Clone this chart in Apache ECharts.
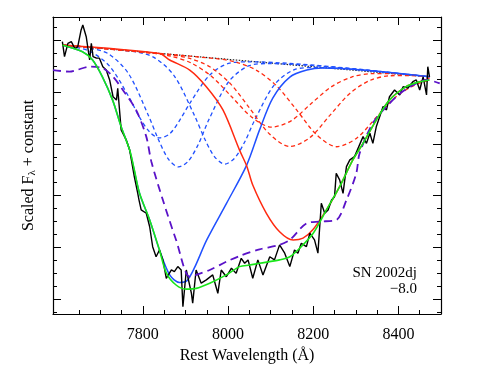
<!DOCTYPE html>
<html>
<head>
<meta charset="utf-8">
<script src="https://cdn.jsdelivr.net/npm/echarts@6/dist/echarts.min.js"></script>
<style>
  html, body { margin: 0; padding: 0; background: #fff; }
  #chart { width: 485px; height: 374px; }
</style>
</head>
<body>
<div id="chart"></div>
<script>
// observed spectrum
const obsWave = [7611, 7616, 7624, 7632, 7640, 7647, 7655, 7659, 7667, 7675, 7679, 7683, 7691, 7698, 7706, 7714, 7722, 7730, 7738, 7741, 7749, 7761, 7769, 7773, 7780, 7788, 7791, 7796, 7808, 7816, 7823, 7831, 7839, 7847, 7855, 7867, 7874, 7882, 7890, 7894, 7902, 7914, 7917, 7925, 7937, 7949, 7964, 7976, 7984, 7996, 8008, 8019, 8031, 8039, 8047, 8058, 8070, 8082, 8098, 8109, 8121, 8133, 8145, 8156, 8164, 8172, 8184, 8192, 8203, 8211, 8219, 8227, 8235, 8243, 8250, 8254, 8262, 8270, 8278, 8286, 8297, 8317, 8325, 8333, 8340, 8348, 8356, 8364, 8372, 8379, 8391, 8403, 8411, 8422, 8434, 8442, 8450, 8458, 8466, 8469, 8473];
const obsFlux = [0.995, 0.937, 0.988, 0.995, 0.969, 0.975, 1.040, 1.059, 1.014, 0.924, 0.988, 0.937, 0.931, 0.931, 0.898, 0.885, 0.847, 0.782, 0.769, 0.815, 0.654, 0.615, 0.576, 0.538, 0.473, 0.409, 0.383, 0.345, 0.332, 0.280, 0.203, 0.164, 0.190, 0.152, 0.081, 0.113, 0.107, 0.126, 0.113, -0.029, 0.113, 0.023, -0.015, 0.113, 0.062, 0.075, 0.094, 0.023, 0.113, 0.087, 0.120, 0.100, 0.158, 0.139, 0.152, 0.081, 0.152, 0.094, 0.164, 0.152, 0.210, 0.178, 0.126, 0.190, 0.178, 0.216, 0.203, 0.255, 0.229, 0.178, 0.371, 0.332, 0.345, 0.383, 0.396, 0.486, 0.461, 0.409, 0.512, 0.538, 0.551, 0.628, 0.602, 0.641, 0.602, 0.666, 0.705, 0.744, 0.731, 0.782, 0.808, 0.789, 0.821, 0.815, 0.840, 0.847, 0.808, 0.859, 0.789, 0.898, 0.859];

// total fit (green)
const fitWave = [7611, 7658, 7682, 7705, 7729, 7749, 7769, 7780, 7792, 7816, 7839, 7855, 7878, 7902, 7925, 7957, 7996, 8027, 8051, 8074, 8121, 8145, 8168, 8200, 8231, 8262, 8293, 8317, 8348, 8379, 8418, 8450, 8473];
const fitFlux = [0.982, 0.956, 0.924, 0.859, 0.769, 0.666, 0.576, 0.499, 0.410, 0.306, 0.190, 0.102, 0.055, 0.039, 0.042, 0.062, 0.094, 0.126, 0.132, 0.139, 0.152, 0.164, 0.197, 0.255, 0.345, 0.435, 0.538, 0.602, 0.692, 0.769, 0.821, 0.840, 0.847];

// comparison model (purple dashed)
const synWave = [7589, 7628, 7644, 7675, 7706, 7730, 7753, 7784, 7808, 7820, 7847, 7878, 7910, 7925, 7957, 7996, 8027, 8074, 8121, 8145, 8184, 8215, 8254, 8278, 8301, 8309, 8340, 8372, 8404, 8434, 8466, 8497];
const synFlux = [0.885, 0.879, 0.885, 0.898, 0.892, 0.859, 0.808, 0.731, 0.628, 0.531, 0.383, 0.229, 0.087, 0.094, 0.113, 0.145, 0.167, 0.193, 0.210, 0.229, 0.293, 0.300, 0.306, 0.383, 0.486, 0.564, 0.680, 0.744, 0.795, 0.827, 0.847, 0.834];

// continuum (dotted)
const contWave = [7611, 8473];
const contFlux = [0.982, 0.859];

// high-velocity component sum (blue solid)
const hvfWave = [7611, 7658, 7682, 7705, 7729, 7749, 7769, 7792, 7816, 7839, 7863, 7886, 7903, 7921, 7950, 7997, 8044, 8074, 8105, 8145, 8185, 8222, 8473];
const hvfFlux = [0.982, 0.956, 0.924, 0.859, 0.769, 0.666, 0.576, 0.410, 0.306, 0.190, 0.094, 0.065, 0.071, 0.121, 0.229, 0.372, 0.519, 0.654, 0.777, 0.858, 0.885, 0.893, 0.859];

// photospheric component sum (red solid)
const pvfWave = [7611, 7839, 7863, 7910, 7949, 7988, 8027, 8044, 8058, 8090, 8121, 8153, 8176, 8199, 8231, 8262, 8293, 8317, 8348, 8379, 8418, 8450, 8473];
const pvfFlux = [0.982, 0.949, 0.924, 0.885, 0.821, 0.731, 0.576, 0.514, 0.441, 0.332, 0.261, 0.229, 0.236, 0.268, 0.345, 0.435, 0.538, 0.602, 0.692, 0.769, 0.821, 0.840, 0.853];

// individual high-velocity lines (blue dashed)
const hv1Wave = [7611, 7628, 7675, 7722, 7769, 7792, 7816, 7839, 7863, 7886, 7910, 7957, 8004, 8051, 8473];
const hv1Flux = [0.982, 0.978, 0.958, 0.900, 0.776, 0.703, 0.646, 0.623, 0.639, 0.690, 0.756, 0.866, 0.912, 0.917, 0.859];
const hv2Wave = [7611, 7673, 7719, 7766, 7813, 7837, 7860, 7884, 7907, 7931, 7954, 8001, 8048, 8095, 8473];
const hv2Flux = [0.982, 0.970, 0.948, 0.872, 0.710, 0.615, 0.541, 0.511, 0.534, 0.601, 0.690, 0.839, 0.901, 0.910, 0.859];
const hv3Wave = [7611, 7780, 7827, 7874, 7921, 7945, 7968, 7992, 8015, 8039, 8062, 8109, 8156, 8203, 8473];
const hv3Flux = [0.982, 0.956, 0.933, 0.862, 0.710, 0.620, 0.551, 0.522, 0.544, 0.607, 0.690, 0.829, 0.887, 0.895, 0.859];

// individual photospheric lines (red dashed)
const pv1Wave = [7611, 7820, 7867, 7914, 7961, 8008, 8055, 8102, 8149, 8196, 8243, 8290, 8337, 8384, 8473];
const pv1Flux = [0.982, 0.951, 0.938, 0.912, 0.861, 0.783, 0.704, 0.665, 0.690, 0.757, 0.821, 0.858, 0.871, 0.871, 0.859];
const pv2Wave = [7611, 7863, 7910, 7957, 8004, 8051, 8098, 8145, 8192, 8239, 8286, 8333, 8380, 8427, 8473];
const pv2Flux = [0.982, 0.944, 0.930, 0.898, 0.835, 0.737, 0.637, 0.590, 0.624, 0.710, 0.795, 0.845, 0.863, 0.864, 0.859];
const pv3Wave = [7611, 7973, 8020, 8067, 8114, 8161, 8208, 8255, 8302, 8349, 8396, 8443, 8473];
const pv3Flux = [0.982, 0.929, 0.915, 0.884, 0.824, 0.731, 0.635, 0.589, 0.622, 0.704, 0.784, 0.831, 0.845];

// axis ticks
const xMajor = [7800, 8000, 8200, 8400];
const xMinor = [7650, 7700, 7750, 7800, 7850, 7900, 7950, 8000, 8050, 8100, 8150, 8200, 8250, 8300, 8350, 8400, 8450];
const yMajor = [0, 0.2, 0.4, 0.6, 0.8, 1.0];
const yMinor = [-0.05, 0, 0.05, 0.1, 0.15, 0.2, 0.25, 0.3, 0.35, 0.4, 0.45, 0.5, 0.55, 0.6, 0.65, 0.7, 0.75, 0.8, 0.85, 0.9, 0.95, 1.0, 1.05];

const pair = (w, f) => w.map((x, i) => [x, f[i]]);

const FONT = 'Liberation Serif';
const xMin = 7589, xMax = 8500;
const yMin = -0.057, yMax = 1.09;

function xAx(pos, ticks, len, line, labels) {
  return {
    type: 'value', position: pos, min: xMin, max: xMax,
    axisLine: { show: line, onZero: false, lineStyle: { color: '#000', width: 1.2 } },
    axisTick: { show: true, inside: true, length: len, customValues: ticks, lineStyle: { color: '#000', width: 1 } },
    axisLabel: labels ? { show: true, customValues: ticks, formatter: v => String(v), color: '#000', fontFamily: FONT, fontSize: 16, margin: 13 } : { show: false },
    splitLine: { show: false }
  };
}
function yAx(pos, ticks, len, line) {
  return {
    type: 'value', position: pos, min: yMin, max: yMax,
    axisLine: { show: line, onZero: false, lineStyle: { color: '#000', width: 1.2 } },
    axisTick: { show: true, inside: true, length: len, customValues: ticks, lineStyle: { color: '#000', width: 1 } },
    axisLabel: { show: false },
    splitLine: { show: false }
  };
}

const xAxes = [
  xAx('bottom', xMinor, 4, true, false),
  xAx('bottom', xMajor, 8, false, true),
  xAx('top', xMinor, 4, true, false),
  xAx('top', xMajor, 8, false, false)
];
Object.assign(xAxes[1], {
  name: 'Rest Wavelength (Å)', nameLocation: 'middle', nameGap: 31,
  nameTextStyle: { color: '#000', fontFamily: FONT, fontSize: 16 }
});
const yAxes = [
  yAx('left', yMinor, 4, true),
  yAx('left', yMajor, 8, false),
  yAx('right', yMinor, 4, true),
  yAx('right', yMajor, 8, false)
];
Object.assign(yAxes[1], {
  name: 'Scaled F{s|λ} + constant', nameLocation: 'middle', nameGap: 15,
  nameTextStyle: { color: '#000', fontFamily: FONT, fontSize: 16,
    rich: { s: { fontFamily: FONT, fontSize: 11, verticalAlign: 'bottom', padding: [8, 0, 0, 0] } } }
});

function line(data, color, width, type, z) {
  return {
    type: 'line', data: data, xAxisIndex: 0, yAxisIndex: 0,
    showSymbol: false, smooth: 0.3, z: z, silent: true,
    lineStyle: { color: color, width: width, type: type },
    animation: false
  };
}

const BLUE = '#2050ff', RED = '#ff2a10', GREEN = '#19e619', PURPLE = '#5a12c8';

const chart = echarts.init(document.getElementById('chart'), null, { renderer: 'canvas' });
chart.setOption({
  animation: false,
  backgroundColor: '#fff',
  grid: { left: 53, right: 44, top: 17, bottom: 60 },
  xAxis: xAxes,
  yAxis: yAxes,
  graphic: [
    { type: 'text', x: 417, y: 273, style: { text: 'SN 2002dj', fill: '#000', font: '15px "Liberation Serif"', textAlign: 'right', textVerticalAlign: 'middle' } },
    { type: 'text', x: 417, y: 289, style: { text: '\u22128.0', fill: '#000', font: '15px "Liberation Serif"', textAlign: 'right', textVerticalAlign: 'middle' } }
  ],
  series: [
    Object.assign(line(pair(contWave, contFlux), '#222', 1.2, [1.5, 1.5], 1), { smooth: false }),
    line(pair(hv1Wave, hv1Flux), BLUE, 1.3, [4, 3], 2),
    line(pair(hv2Wave, hv2Flux), BLUE, 1.3, [4, 3], 2),
    line(pair(hv3Wave, hv3Flux), BLUE, 1.3, [4, 3], 2),
    line(pair(pv1Wave, pv1Flux), RED, 1.3, [4, 3], 2),
    line(pair(pv2Wave, pv2Flux), RED, 1.3, [4, 3], 2),
    line(pair(pv3Wave, pv3Flux), RED, 1.3, [4, 3], 2),
    line(pair(hvfWave, hvfFlux), BLUE, 1.5, 'solid', 3),
    line(pair(pvfWave, pvfFlux), RED, 1.5, 'solid', 3),
    Object.assign(line(pair(obsWave, obsFlux), '#000', 1.4, 'solid', 4), { smooth: false }),
    line(pair(synWave, synFlux), PURPLE, 1.8, [8, 5], 5),
    line(pair(fitWave, fitFlux), GREEN, 1.6, 'solid', 6)
  ]
});
</script>
</body>
</html>
